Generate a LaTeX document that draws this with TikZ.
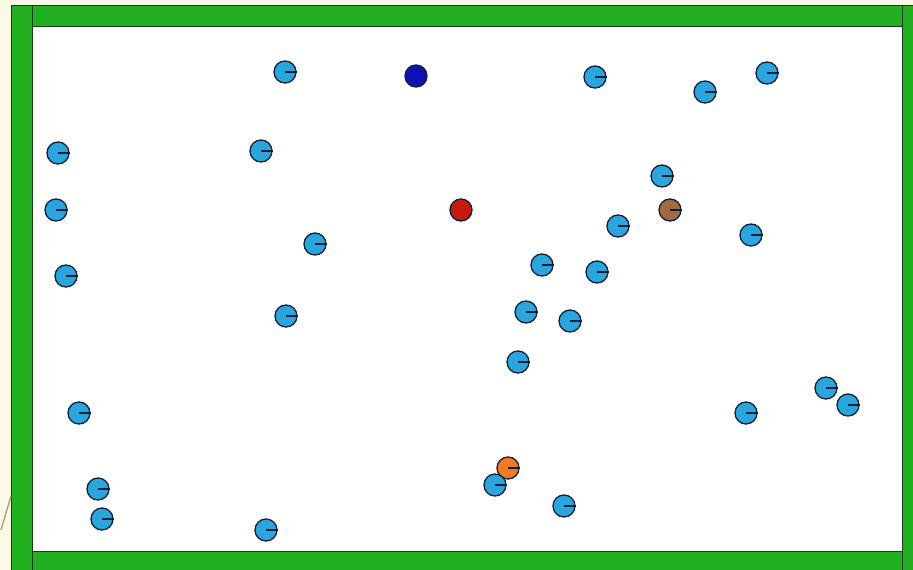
\documentclass[tikz,border=0pt]{standalone}
\definecolor{bgcream}{HTML}{FCF9E4}
\definecolor{wallgreen}{HTML}{20B020}
\definecolor{walledge}{HTML}{1A3A1A}
\definecolor{ballcyan}{HTML}{2AA6DE}
\definecolor{ballblue}{HTML}{1010B4}
\definecolor{ballred}{HTML}{C41A10}
\definecolor{ballbrown}{HTML}{A06A42}
\definecolor{ballorange}{HTML}{F27A22}
\definecolor{balledge}{HTML}{10203A}
\definecolor{strokebrown}{HTML}{B09A78}
\tikzset{
  ball/.style={circle, draw=balledge, line width=1.3pt, minimum size=22pt, inner sep=0pt, fill=#1},
  wall/.style={fill=wallgreen, draw=walledge, line width=1pt},
  heading/.style={draw=balledge, line width=1.1pt}
}
\begin{document}
\begin{tikzpicture}[x=1pt,y=-1pt]
\useasboundingbox (0,0) rectangle (913,570);
\fill[bgcream] (0,0) rectangle (913,570);
\fill[white] (32,26) rectangle (902,551);
% walls
\draw[wall] (11,5) rectangle (32,575);
\draw[wall] (902,5) rectangle (920,575);
\draw[wall] (32,5) rectangle (902,26);
\draw[wall] (32,551) rectangle (902,575);
% stray stroke
\draw[strokebrown, line width=1.3pt] (1,530) -- (11,496);
% balls
\foreach \n/\x/\y in {c1/285/72, c3/595/77, c4/705/92, c5/767/73, c6/58/153, c7/261/151,
  c8/662/176, c9/56/210, c12/618/226, c13/751/235, c14/315/244, c15/66/276,
  c16/542/265, c17/597/272, c18/526/312, c19/286/316, c20/570/321, c21/518/362,
  c22/826/388, c23/848/405, c24/79/413, c25/746/413}
{
  \node[ball=ballcyan] (\n) at (\x,\y) {};
  \draw[heading] (\n.center) -- (\n.east);
}
\node[ball=ballblue] (blue) at (416,76) {};
\node[ball=ballred] (red) at (461,210) {};
\node[ball=ballbrown] (brown) at (670,210) {};
\draw[heading] (brown.center) -- (brown.east);
\node[ball=ballorange] (orange) at (508,468) {};
\draw[heading] (orange.center) -- (orange.east);
\foreach \n/\x/\y in {c27/495/485, c28/98/489, c29/102/519, c30/564/506, c31/266/530}
{
  \node[ball=ballcyan] (\n) at (\x,\y) {};
  \draw[heading] (\n.center) -- (\n.east);
}
\end{tikzpicture}
\end{document}
